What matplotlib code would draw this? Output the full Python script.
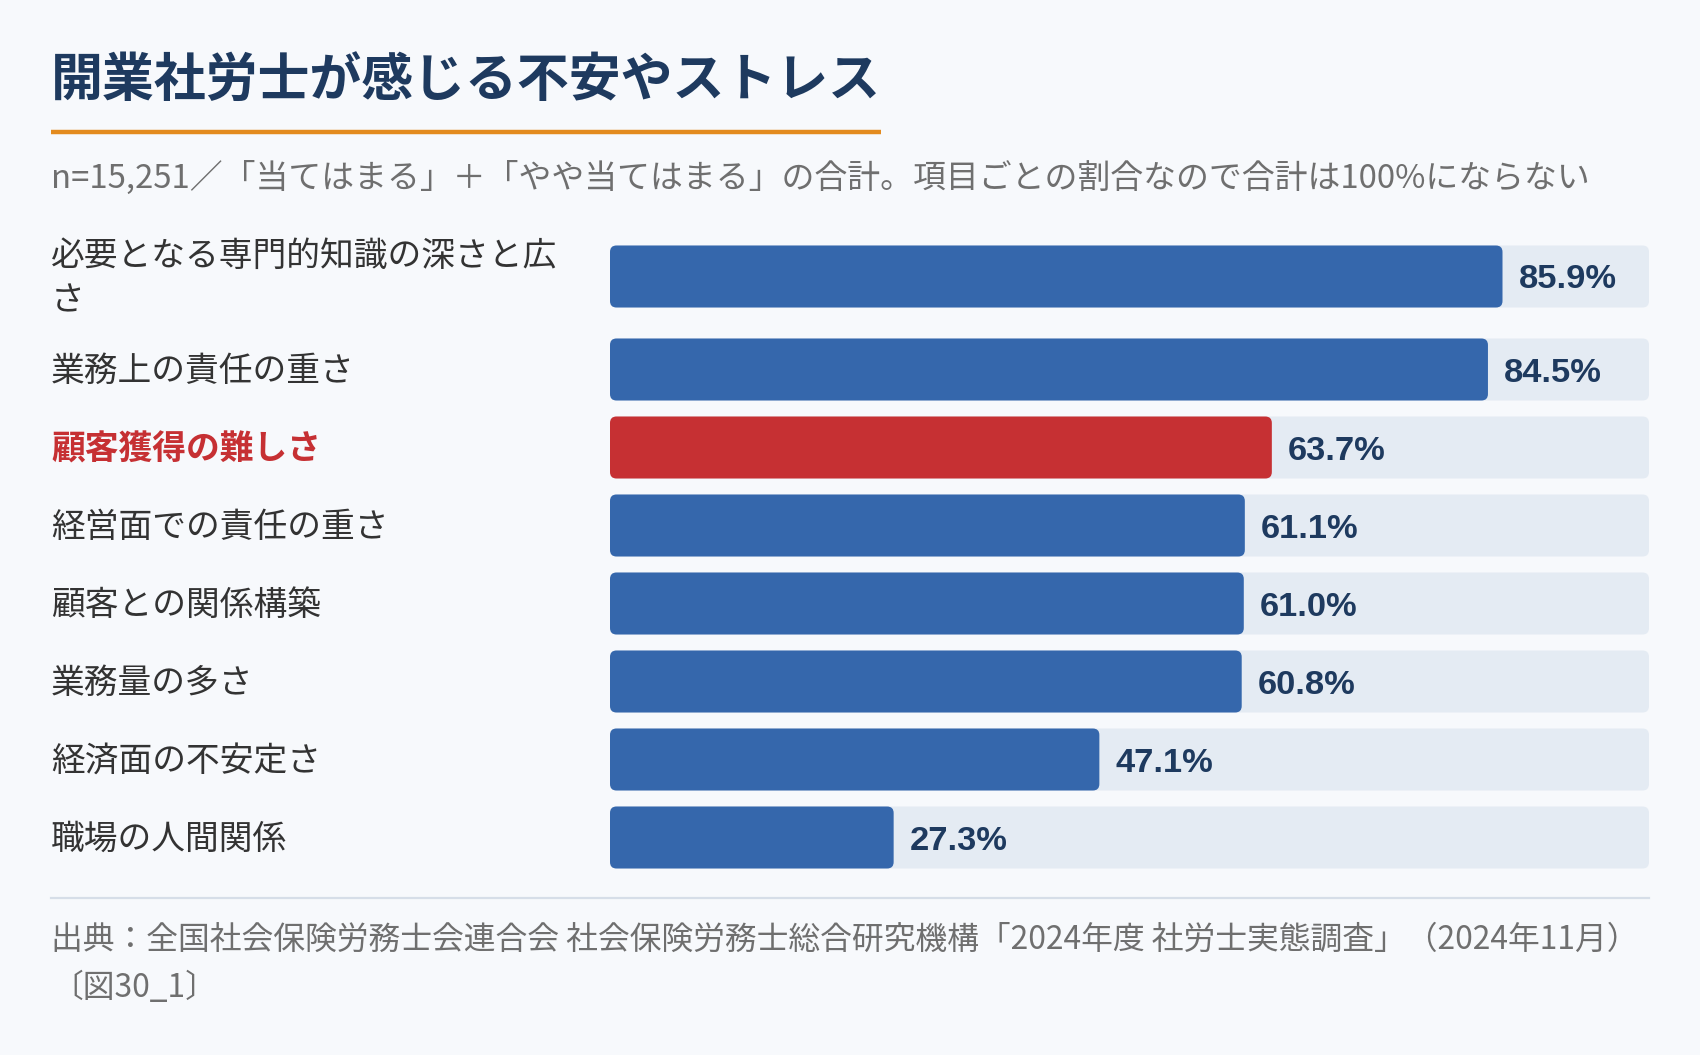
import matplotlib
matplotlib.use("Agg")
import matplotlib.pyplot as plt
from matplotlib.patches import FancyBboxPatch

plt.rcParams['font.family'] = ['Noto Sans CJK JP', 'DejaVu Sans']

# ---- data ----
title = "開業社労士が感じる不安やストレス"
subtitle = "n=15,251／「当てはまる」＋「やや当てはまる」の合計。項目ごとの割合なので合計は100%にならない"
categories = [
    "必要となる専門的知識の深さと広さ",
    "業務上の責任の重さ",
    "顧客獲得の難しさ",
    "経営面での責任の重さ",
    "顧客との関係構築",
    "業務量の多さ",
    "経済面の不安定さ",
    "職場の人間関係",
]
values = [85.9, 84.5, 63.7, 61.1, 61.0, 60.8, 47.1, 27.3]
highlight = "顧客獲得の難しさ"
source_lines = [
    "出典：全国社会保険労務士会連合会 社会保険労務士総合研究機構「2024年度 社労士実態調査」（2024年11月）",
    "〔図30_1〕",
]

# ---- style ----
BG = "#f7f9fc"
TRACK = "#e4ebf3"
BLUE = "#3567ac"
RED = "#c63033"
NAVY = "#1e3a5f"
ORANGE = "#e38b1f"
GRAY = "#6f6f6f"
LABEL = "#333333"

W, H = 1700, 1055
DPI = 100
fig = plt.figure(figsize=(W / DPI, H / DPI), dpi=DPI, facecolor=BG)

# pixel-space overlay for text / decorations
bg = fig.add_axes([0, 0, 1, 1])
bg.set_xlim(0, W)
bg.set_ylim(H, 0)
bg.axis("off")
bg.set_facecolor(BG)

LEFT = 51
bg.text(LEFT, 80, title, fontsize=37.4, fontweight="bold", color=NAVY,
        va="center", ha="left")
bg.plot([LEFT, 881], [132, 132], color=ORANGE, lw=3.2, solid_capstyle="butt")
bg.text(LEFT, 178, subtitle, fontsize=23.7, color=GRAY, va="center", ha="left")

# bar axes: x in percent, y in figure pixels
TRACK_L, TRACK_R = 610, 1649
ax = fig.add_axes([TRACK_L / W, 0, (TRACK_R - TRACK_L) / W, 1])
ax.set_xlim(0, 100)
ax.set_ylim(H, 0)
ax.axis("off")
ax.patch.set_alpha(0)

bar_h = 62
line_h = 46
gap = 16
wrap_n = 15
lab_line = 44.5
px_per_x = (TRACK_R - TRACK_L) / 100.0
radius_px = 6.5
r_x = radius_px / px_per_x
m_aspect = radius_px / r_x

y_top = 222.5
for cat, val in zip(categories, values):
    lines = [cat[i:i + wrap_n] for i in range(0, len(cat), wrap_n)]
    row_h = max(bar_h, len(lines) * line_h) + gap
    yc = y_top + row_h / 2
    y_top += row_h
    is_hi = cat == highlight
    col = RED if is_hi else BLUE
    # track
    ax.add_patch(FancyBboxPatch((0, yc - bar_h / 2), 100, bar_h,
                                boxstyle=f"round,pad=0,rounding_size={r_x}",
                                mutation_aspect=m_aspect, fc=TRACK, ec="none", zorder=1))
    # value bar
    ax.add_patch(FancyBboxPatch((0, yc - bar_h / 2), val, bar_h,
                                boxstyle=f"round,pad=0,rounding_size={r_x}",
                                mutation_aspect=m_aspect, fc=col, ec="none", zorder=2))
    ax.text(val + 16 / px_per_x, yc, f"{val:.1f}%", fontsize=24.8, fontweight="bold",
            family=["Liberation Sans", "DejaVu Sans"], color=NAVY,
            va="center_baseline", ha="left", zorder=3)
    n = len(lines)
    for k, ln in enumerate(lines):
        ly = yc + 2 + (k - (n - 1) / 2) * lab_line
        bg.text(LEFT, ly, ln, fontsize=24.3, color=RED if is_hi else LABEL,
                fontweight="bold" if is_hi else "normal", va="center", ha="left")

# separator & source
bg.plot([LEFT, TRACK_R], [898, 898], color="#d6dee8", lw=1.6)
for k, s in enumerate(source_lines):
    bg.text(LEFT, 940 + k * 47.5, s, fontsize=22.9, color=GRAY, va="center", ha="left")

fig.savefig("out.png", dpi=DPI, facecolor=BG)
